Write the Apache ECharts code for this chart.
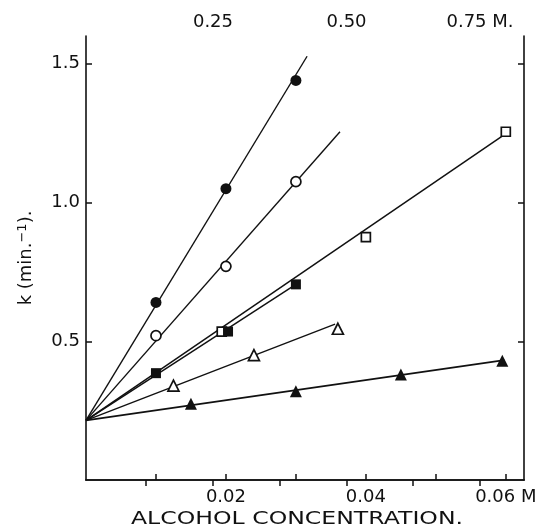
<!DOCTYPE html>
<html>
<head>
<meta charset="UTF-8">
<title></title>
<script src="https://cdn.jsdelivr.net/npm/echarts@6/dist/echarts.min.js"></script>
<style>
  html, body { margin: 0; padding: 0; background: #fff; }
  #container { width: 551px; height: 528px; }
</style>
</head>
<body>
<div id="container"></div>
<script>
// measured points, k (min^-1) vs alcohol concentration (M)
var filledCircleX = [0.01, 0.02, 0.03];
var filledCircleK = [0.64, 1.05, 1.44];
var openCircleX = [0.01, 0.02, 0.03];
var openCircleK = [0.52, 0.77, 1.075];
var openSquareX = [0.0194, 0.04, 0.06];
var openSquareK = [0.535, 0.875, 1.255];
var filledSquareX = [0.01, 0.0203, 0.03];
var filledSquareK = [0.385, 0.535, 0.705];
var openTriangleX = [0.0125, 0.024, 0.036];
var openTriangleK = [0.34, 0.45, 0.545];
var filledTriangleX = [0.015, 0.03, 0.045, 0.0595];
var filledTriangleK = [0.275, 0.32, 0.38, 0.43];

// fitted lines, all from the common intercept
var fitStartX = [0, 0, 0, 0, 0, 0];
var fitStartK = [0.215, 0.215, 0.215, 0.215, 0.215, 0.215];
var fitEndX = [0.0316, 0.0363, 0.0598, 0.03, 0.0356, 0.0598];
var fitEndK = [1.527, 1.255, 1.245, 0.705, 0.562, 0.432];
var fitWidth = [1.4, 1.4, 1.5, 1.5, 1.4, 1.8];

// axis ticks
var bottomTicks = [0.01, 0.02, 0.03, 0.04, 0.05, 0.06];
var bottomLabels = [0.02, 0.04, 0.06];
var topTicks = [0.125, 0.25, 0.375, 0.5, 0.625, 0.75];
var topLabels = [0.25, 0.5, 0.75];
var kTicks = [0.5, 1.0, 1.5];

var INK = '#111';
var FONT = 'DejaVu Sans';

function pairs(xs, ys) {
    return xs.map(function (x, i) { return [x, ys[i]]; });
}

function pointSeries(name, xs, ys, symbol, size, filled) {
    return {
        name: name,
        type: 'scatter',
        data: pairs(xs, ys),
        symbol: symbol,
        symbolSize: size,
        z: 5,
        itemStyle: {
            color: filled ? INK : '#fff',
            borderColor: INK,
            borderWidth: filled ? 0 : 1.7,
            opacity: 1
        }
    };
}

function fitSeries(i) {
    return {
        type: 'line',
        data: [[fitStartX[i], fitStartK[i]], [fitEndX[i], fitEndK[i]]],
        symbol: 'none',
        silent: true,
        z: 2,
        lineStyle: { color: INK, width: fitWidth[i] }
    };
}

var series = [];
for (var i = 0; i < fitEndX.length; i++) series.push(fitSeries(i));
series.push(pointSeries('filled circle', filledCircleX, filledCircleK, 'circle', 11, true));
series.push(pointSeries('open circle', openCircleX, openCircleK, 'circle', 10, false));
series.push(pointSeries('open square', openSquareX, openSquareK, 'rect', 9, false));
series.push(pointSeries('filled square', filledSquareX, filledSquareK, 'rect', 10, true));
series.push(pointSeries('open triangle', openTriangleX, openTriangleK, 'triangle', 11, false));
series.push(pointSeries('filled triangle', filledTriangleX, filledTriangleK, 'triangle', 12, true));

var axisLine = { show: true, lineStyle: { color: INK, width: 1.6 } };
var tickStyle = { color: INK, width: 1.5 };

var option = {
    animation: false,
    backgroundColor: '#fff',
    grid: { left: 86, right: 27, top: 36, bottom: 48 },
    xAxis: [{
        type: 'value',
        position: 'bottom',
        min: 0,
        max: 0.0626,
        axisLine: axisLine,
        splitLine: { show: false },
        axisTick: { inside: true, length: 6, lineStyle: tickStyle, customValues: bottomTicks },
        axisLabel: {
            customValues: bottomLabels,
            margin: 8,
            color: INK,
            fontFamily: FONT,
            fontSize: 18,
            formatter: function (v) {
                var s = v.toFixed(2);
                return Math.abs(v - 0.06) < 1e-9 ? s + ' M' : s;
            }
        }
    }, {
        type: 'value',
        position: 'top',
        min: 0.0122,
        max: 0.8324,
        axisLine: axisLine,
        splitLine: { show: false },
        axisTick: { inside: true, length: 6, lineStyle: tickStyle, customValues: topTicks },
        axisLabel: {
            customValues: topLabels,
            margin: 5,
            color: INK,
            fontFamily: FONT,
            fontSize: 18,
            formatter: function (v) {
                var s = v.toFixed(2);
                return Math.abs(v - 0.75) < 1e-9 ? s + ' M.' : s;
            }
        }
    }],
    yAxis: [{
        type: 'value',
        position: 'left',
        min: 0,
        max: 1.6,
        name: 'k (min.{sup|−1}).',
        nameLocation: 'middle',
        nameRotate: 90,
        nameGap: 49,
        nameTextStyle: {
            color: INK,
            fontFamily: FONT,
            fontSize: 18,
            rich: { sup: { fontFamily: FONT, fontSize: 13, color: INK, verticalAlign: 'top', padding: [0, 0, 8, 0] } }
        },
        axisLine: axisLine,
        splitLine: { show: false },
        axisTick: { inside: true, length: 6, lineStyle: tickStyle, customValues: kTicks },
        axisLabel: {
            customValues: kTicks,
            margin: 6,
            color: INK,
            fontFamily: FONT,
            fontSize: 18,
            formatter: function (v) { return v.toFixed(1); }
        }
    }, {
        type: 'value',
        position: 'right',
        min: 0,
        max: 1.6,
        axisLine: axisLine,
        splitLine: { show: false },
        axisTick: { inside: true, length: 6, lineStyle: tickStyle, customValues: kTicks },
        axisLabel: { show: false }
    }],
    graphic: [{
        type: 'text',
        x: 297,
        y: 519,
        scaleX: 1.31,
        style: {
            text: 'ALCOHOL CONCENTRATION.',
            fill: INK,
            font: '18px "DejaVu Sans"',
            align: 'center',
            verticalAlign: 'middle'
        }
    }],
    series: series
};

var chart = echarts.init(document.getElementById('container'));
chart.setOption(option);
</script>
</body>
</html>
